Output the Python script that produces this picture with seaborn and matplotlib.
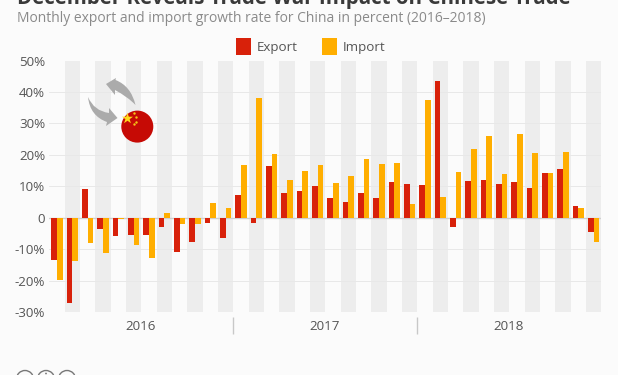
import matplotlib
matplotlib.use('Agg')
import matplotlib.pyplot as plt
import pandas as pd
import seaborn as sns
from matplotlib.patches import Circle, PathPatch
from matplotlib.path import Path

months = [f'{y}-{m:02d}' for y in (2016, 2017, 2018) for m in range(1, 13)]
export_growth = [-13.4, -27.0, 9.2, -3.6, -5.6, -5.4, -5.5, -3.0, -10.7, -7.6, -1.7, -6.3,
                 7.4, -1.6, 16.4, 8.0, 8.5, 10.2, 6.4, 5.0, 7.9, 6.2, 11.5, 10.9,
                 10.6, 43.5, -3.0, 11.8, 12.0, 10.7, 11.5, 9.5, 14.3, 15.6, 3.8, -4.4]
import_growth = [-19.7, -13.8, -8.0, -11.1, -0.4, -8.5, -12.9, 1.5, -1.9, -1.9, 4.6, 3.1,
                 16.8, 38.0, 20.3, 11.9, 14.8, 16.9, 11.0, 13.3, 18.7, 17.0, 17.5, 4.5,
                 37.5, 6.5, 14.7, 22.0, 26.0, 13.8, 26.8, 20.7, 14.4, 20.8, 3.0, -7.6]
y_ticks = [-30, -20, -10, 0, 10, 20, 30, 40, 50]
y_labels = ['-30%', '-20%', '-10%', '0', '10%', '20%', '30%', '40%', '50%']
years = ['2016', '2017', '2018']

W, H = 618, 375
BG = '#fbfbfb'
BAND = '#ededed'
TEXT = '#555555'

sns.set_theme(style='white')
plt.rcParams['font.family'] = ['Open Sans', 'DejaVu Sans']

df = pd.DataFrame({'month': months, 'Export': export_growth, 'Import': import_growth})
long_df = df.melt(id_vars='month', var_name='kind', value_name='growth')

fig = plt.figure(figsize=(W / 100, H / 100), dpi=100, facecolor=BG)
left, right, top, bottom = 49.3, 601.3, 60.5, 312.3
ax = fig.add_axes([left / W, 1 - bottom / H, (right - left) / W, (bottom - top) / H], facecolor=BG)

sns.barplot(data=long_df, x='month', y='growth', hue='kind', order=months,
            palette={'Export': '#d8210a', 'Import': '#ffae00'}, saturation=1,
            width=0.75, gap=0, dodge=True, linewidth=0, ax=ax, zorder=3)

ax.set_xlim(-0.5, 35.5)
ax.set_ylim(-30, 50)

# alternating month bands and horizontal grid
for i in range(1, len(months), 2):
    ax.axvspan(i - 0.5, i + 0.5, color=BAND, lw=0, zorder=0)
for t in y_ticks:
    if t == 0:
        ax.axhline(t, color='#cfcfcf', lw=1, zorder=2)
    else:
        ax.axhline(t, color='#e8e8e8', lw=0.7, zorder=1)

ax.set_yticks(y_ticks, y_labels, fontsize=9.6, color=TEXT)
ax.tick_params(axis='y', length=0, pad=3)
ax.set_xticks([])
ax.set_xlabel('')
ax.set_ylabel('')
sns.despine(ax=ax, left=True, right=True, top=True, bottom=True)

# year labels under the axis, split by short separators
xform = ax.get_xaxis_transform()
for idx, year in enumerate(years):
    ax.text(5.45 + 12 * idx, -0.056, year, transform=xform, ha='center', va='center',
            fontsize=9.6, color=TEXT)
ax.vlines([11.5, 23.5], -0.085, -0.018, transform=xform, color='#c8c8c8', lw=1, clip_on=False)

sns.move_legend(ax, 'center', bbox_to_anchor=(310.5 / W, 1 - 46.5 / H),
                bbox_transform=fig.transFigure, ncol=2, title=None, frameon=False,
                fontsize=9.6, handlelength=1.15, handleheight=1.5, handletextpad=0.42,
                columnspacing=1.8, labelcolor=TEXT)

# overlay in pixel coordinates for the title, flag and licence icons
over = fig.add_axes([0, 0, 1, 1], facecolor='none')
over.set_xlim(0, W)
over.set_ylim(H, 0)
over.axis('off')

over.text(17, 3.6, 'December Reveals Trade War Impact on Chinese Trade', fontsize=14.8,
          fontweight='bold', color='#3a3a3a', va='baseline', ha='left')
over.text(17, 22.3, 'Monthly export and import growth rate for China in percent (2016\u20132018)',
          fontsize=9.97, color='#8a8a8a', va='baseline', ha='left')

GREY = '#ababab'
upper = Path([(106, 84), (116, 78), (115.5, 80), (131, 86), (135.5, 105),
              (128, 97), (115, 90), (115, 95), (106, 84)],
             [Path.MOVETO, Path.LINETO, Path.LINETO, Path.CURVE3, Path.CURVE3,
              Path.CURVE3, Path.CURVE3, Path.LINETO, Path.CLOSEPOLY])
lower = Path([(88, 97), (94, 111), (109, 113), (109, 108), (117.5, 118),
              (106, 126), (107, 122), (90, 116), (88, 97), (88, 97)],
             [Path.MOVETO, Path.CURVE3, Path.CURVE3, Path.LINETO, Path.LINETO,
              Path.LINETO, Path.LINETO, Path.CURVE3, Path.CURVE3, Path.CLOSEPOLY])
over.add_patch(PathPatch(upper, fc=GREY, ec='none'))
over.add_patch(PathPatch(lower, fc=GREY, ec='none'))

over.add_patch(Circle((137.3, 126.6), 16, fc='#c60a05', ec='none'))
over.scatter([127], [118], marker='*', s=70, color='#ffd81a', lw=0, zorder=5)
over.scatter([134, 135.5, 135.5, 133.5], [113, 117, 121.5, 124], marker='o', s=3,
             color='#f5c518', lw=0, zorder=5)

for cx in (25, 46, 67):
    over.add_patch(Circle((cx, 379), 8.5, fc='none', ec='#777777', lw=1))
over.add_patch(Circle((46, 373.5), 0.9, fc='#777777', ec='none'))

fig.savefig('out.png', dpi=100, facecolor=BG)
plt.close(fig)
